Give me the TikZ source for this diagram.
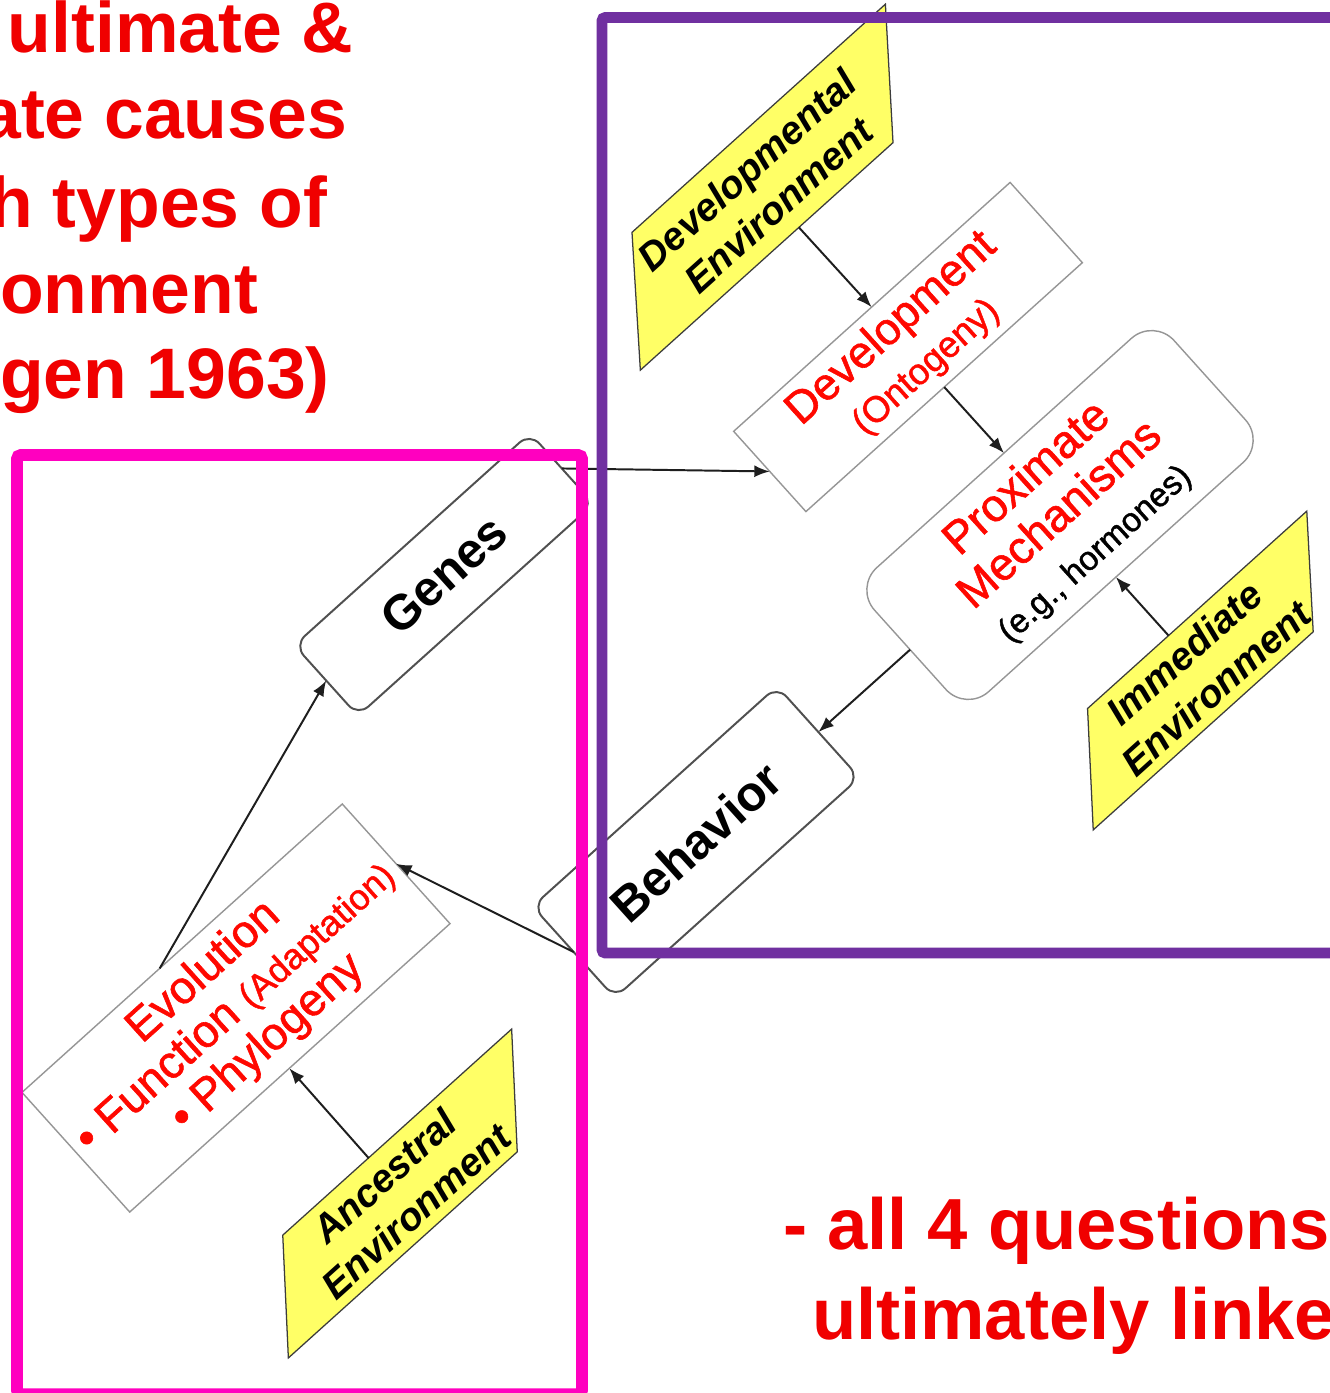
\documentclass[tikz,border=0pt]{standalone}
\usepackage{fontspec}
\setmainfont{Liberation Sans}
\newfontfamily\labelfont[FakeBold=1.3]{Liberation Sans}
\usetikzlibrary{arrows.meta,calc}

\definecolor{slidered}{RGB}{240,0,0}
\definecolor{labelred}{RGB}{255,8,0}
\definecolor{envyellow}{RGB}{255,255,102}
\definecolor{envedge}{RGB}{60,60,60}
\definecolor{framepurple}{RGB}{112,48,160}
\definecolor{framepink}{RGB}{255,0,191}
\definecolor{boxgray}{RGB}{150,150,150}
\definecolor{boxdark}{RGB}{80,80,80}
\definecolor{arrowgray}{RGB}{30,30,30}

% one drawing unit = one pixel of the slide
\newcommand\pxu{0.05cm}

\begin{document}
\begin{tikzpicture}[x=\pxu, y=\pxu,
  envshape/.style={fill=envyellow, draw=envedge, line width=1.8pt, line join=miter},
  envlabel/.style={rotate=42, inner sep=0pt, outer sep=0pt, align=center,
    minimum height={#1*\pxu}, minimum width={150*\pxu},
    font=\fontsize{55.5}{67}\selectfont\bfseries\itshape},
  plainbox/.style={rotate=42, draw=boxgray, line width=2pt, fill=white,
    inner sep=0pt, outer sep=0pt, align=center, text=labelred},
  roundbox/.style={rotate=42, draw=boxdark, line width=2.8pt, fill=white,
    rounded corners=20pt, inner sep=0pt, outer sep=0pt, align=center,
    font=\fontsize{70}{80}\selectfont\bfseries},
  linkarrow/.style={draw=arrowgray, line width=2.8pt, -{Latex[length=22pt,width=17pt]}},
  slidetext/.style={inner sep=0pt, outer sep=0pt, text=slidered,
    font=\fontsize{101.7}{120}\selectfont\bfseries},
  slidefoot/.style={inner sep=0pt, outer sep=0pt, text=slidered,
    font=\fontsize{103}{120}\selectfont\bfseries}
]
\useasboundingbox (0,0) rectangle (1330,-1393);
\clip (0,0) rectangle (1330,-1393);
\fill[white] (0,0) rectangle (1330,-1393);

% yellow environment parallelograms (vertical sides)
\begin{scope}[shift={(762.5,-187.5)}, rotate=42]
  \draw[envshape] (-213,-54) -- (-127,54) -- (214,54) -- (127,-54) -- cycle;
\end{scope}
\begin{scope}[shift={(1200,-670.5)}, rotate=42]
  \draw[envshape] (-186,-47) -- (-109,47) -- (186,47) -- (110,-47) -- cycle;
\end{scope}
\begin{scope}[shift={(400,-1193.5)}, rotate=42]
  \draw[envshape] (-193,-47.5) -- (-115,47.5) -- (193,47.5) -- (115,-47.5) -- cycle;
\end{scope}

\node[envlabel=108] (devenv) at (762.5,-187.5) {Developmental\\Environment};
\node[envlabel=94] (immenv) at (1200,-670.5) {Immediate\\Environment};
\node[envlabel=94] (ancenv) at (400,-1193.5) {Ancestral\\Environment};

% boxes
\node[plainbox, minimum width={372*\pxu}, minimum height={108*\pxu},
  font=\labelfont\fontsize{64}{71}\selectfont] (dev) at (908,-347)
  {Development\\{\fontsize{52}{71}\selectfont(Ontogeny)}};
\node[plainbox, rounded corners=43pt, minimum width={403*\pxu}, minimum height={167*\pxu},
  font=\labelfont\fontsize{65}{70}\selectfont] (prox) at (1060,-515)
  {Proximate\\Mechanisms\\{\color{black}\fontsize{47.7}{70}\selectfont(e.g., hormones)}};
\node[plainbox, minimum width={431*\pxu}, minimum height={161*\pxu},
  font=\labelfont\fontsize{65}{68}\selectfont] (evo) at (236,-1008)
  {Evolution\\• Function {\fontsize{51}{68}\selectfont(Adaptation)}\\• Phylogeny};
\node[roundbox, minimum width={317*\pxu}, minimum height={95*\pxu}] (genes) at (444,-574.5) {Genes};
\node[roundbox, minimum width={329*\pxu}, minimum height={123*\pxu}] (behav) at (696,-842) {Behavior};

% connectors
\draw[linkarrow] (devenv) -- (dev);
\draw[linkarrow] (dev) -- (prox);
\draw[linkarrow] (immenv) -- (prox);
\draw[linkarrow] (prox) -- (behav);
\draw[linkarrow] (behav.west) -- (evo.east);
\draw[linkarrow] (ancenv) -- (evo);
\draw[linkarrow] ($(evo.north)!0.14!(evo.north west)$) -- (genes.west);
\draw[linkarrow] (genes.east) -- (dev.west);

% frames
\draw[framepurple, line width=15.6pt, rounded corners=5pt] (602,-17.5) rectangle (1420,-953);
\draw[framepink, line width=16.4pt, rounded corners=5pt] (17,-455) rectangle (582,-1394);

% slide text
\node[slidetext, anchor=base west] (hd1) at (8,-52) {ultimate \&};
\node[slidetext, anchor=base east] (hd2) at (347,-138) {ate causes};
\node[slidetext, anchor=base east] (hd3) at (327,-227) {h types of};
\node[slidetext, anchor=base west] (hd4) at (0,-313) {onment};
\node[slidetext, anchor=base west] (hd5) at (0,-398) {gen 1963)};
\node[slidefoot, anchor=base west] (ft1) at (783,-1249) {- all 4 questions};
\node[slidefoot, anchor=base west] (ft2) at (812,-1339) {ultimately linke};
\end{tikzpicture}
\end{document}
